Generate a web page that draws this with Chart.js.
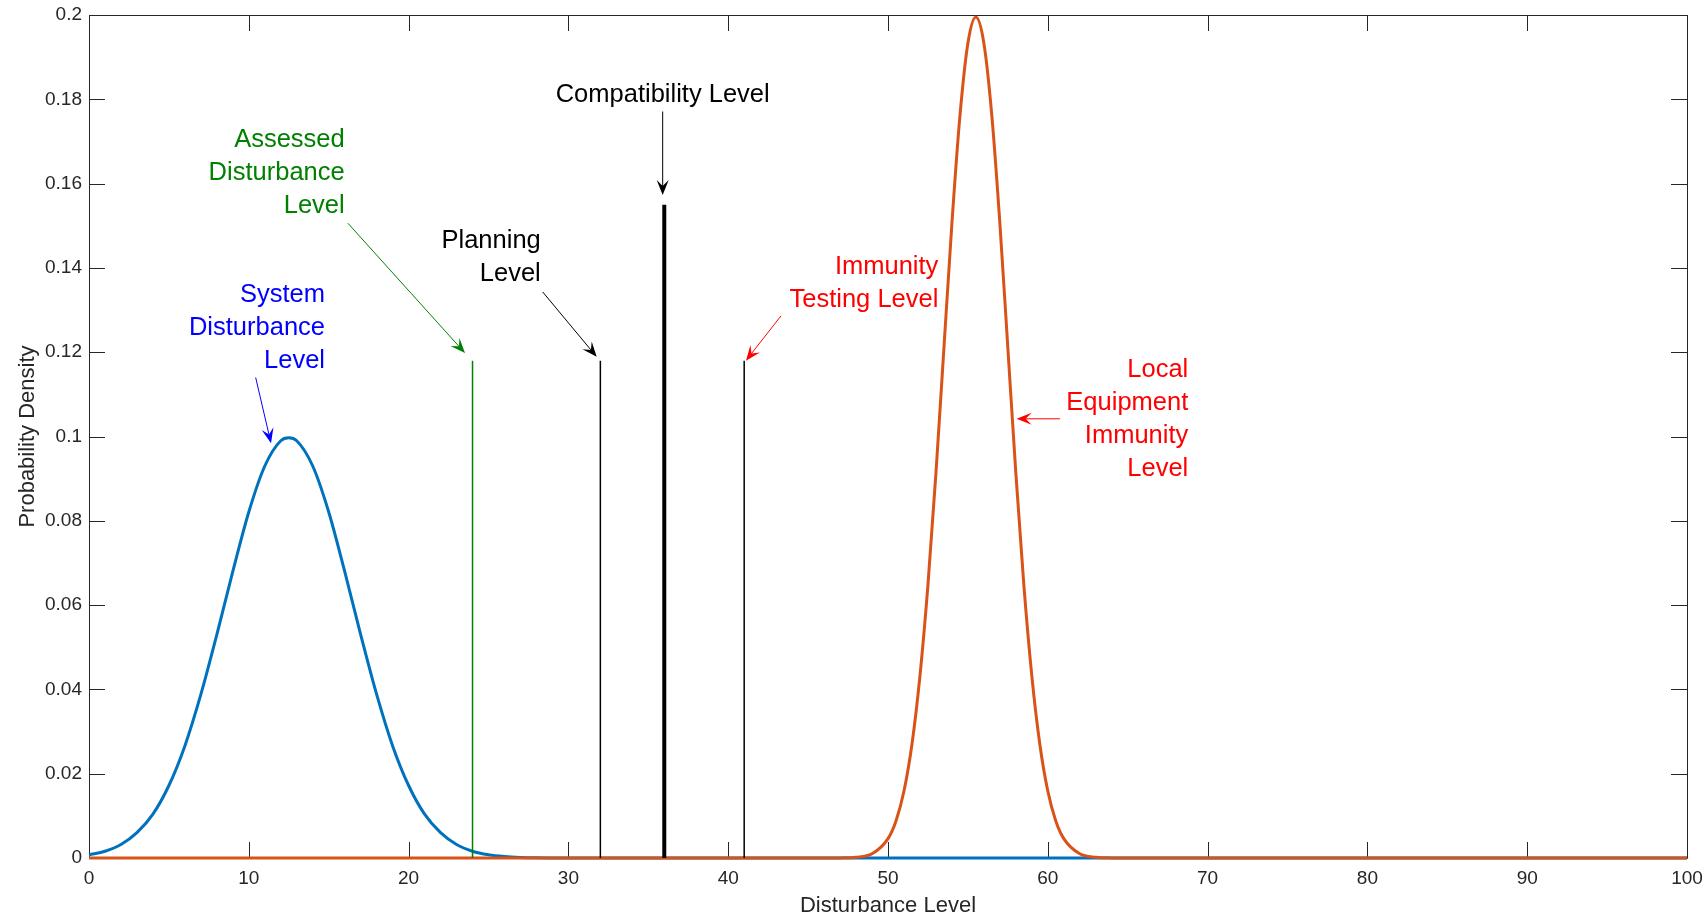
<!DOCTYPE html>
<html>
<head>
<meta charset="utf-8">
<title>Disturbance Level</title>
<script src="https://cdn.jsdelivr.net/npm/chart.js@4.4.1/dist/chart.umd.min.js"></script>
<style>
html, body { margin: 0; padding: 0; background: #fff; }
#wrap { width: 1706px; height: 917px; }
</style>
</head>
<body>
<div id="wrap"><canvas id="pdfChart" width="1706" height="917"></canvas></div>
<script>
// system disturbance level (blue curve)
var sysX = [0, 1, 2, 3, 4, 5, 6, 7, 8, 9, 10, 11, 12, 12.5, 13, 14, 15, 16, 17, 18, 19, 20,
            21, 22, 23, 24, 25, 26, 27, 28, 29, 30, 100];
var sysY = [0.00076, 0.0016, 0.0032, 0.0060, 0.0104, 0.0172, 0.0266, 0.0388, 0.0530, 0.0680,
            0.0821, 0.0930, 0.0990, 0.0997, 0.0990, 0.0930, 0.0821, 0.0680, 0.0530, 0.0388,
            0.0266, 0.0172, 0.0104, 0.0060, 0.0032, 0.0016, 0.00076, 0.00034, 0.00014,
            0.00005, 0.00002, 0, 0];

// local equipment immunity level (orange curve)
var immX = [0, 46, 47, 48, 49, 50, 50.5, 51, 51.5, 52, 52.5, 53, 53.5, 54, 54.5, 55, 55.5,
            56, 56.5, 57, 57.5, 58, 58.5, 59, 59.5, 60, 60.5, 61, 62, 63, 64, 65, 100];
var immY = [0, 0.000003, 0.000024, 0.00018, 0.0010, 0.0046, 0.0088, 0.0159, 0.0270, 0.0432,
            0.0648, 0.0913, 0.1210, 0.1506, 0.1760, 0.1933, 0.1995, 0.1933, 0.1760, 0.1506,
            0.1210, 0.0913, 0.0648, 0.0432, 0.0270, 0.0159, 0.0088, 0.0046, 0.0010, 0.00018,
            0.000024, 0.000003, 0];

// vertical level markers
var levelNames = ['Assessed', 'Planning', 'Compatibility', 'Immunity Testing'];
var levelX = [24, 32, 36, 41];
var levelTop = [0.118, 0.118, 0.155, 0.118];

// axis ticks
var xTicks = [0, 10, 20, 30, 40, 50, 60, 70, 80, 90, 100];
var xTickLabels = ['0', '10', '20', '30', '40', '50', '60', '70', '80', '90', '100'];
var yTicks = [0, 0.02, 0.04, 0.06, 0.08, 0.1, 0.12, 0.14, 0.16, 0.18, 0.2];
var yTickLabels = ['0', '0.02', '0.04', '0.06', '0.08', '0.1', '0.12', '0.14', '0.16', '0.18', '0.2'];

var FONT = '"Liberation Sans", Arial, Helvetica, sans-serif';
var AXIS = '#262626';
var levelColors = ['#008000', '#000000', '#000000', '#000000'];
var levelWidths = [1.5, 1.5, 4, 1.5];

// text arrows (data coordinates)
var notes = [
    { lines: ['Compatibility Level'], color: '#000000', align: 'center', x: 35.9, y: 0.181,
      from: [35.9, 0.1771], to: [35.9, 0.1573] },
    { lines: ['Assessed', 'Disturbance', 'Level'], color: '#008000', align: 'right', x: 16.0, y: 0.1703,
      from: [16.2, 0.1506], to: [23.53, 0.1198] },
    { lines: ['System', 'Disturbance', 'Level'], color: '#0000ff', align: 'right', x: 14.77, y: 0.1336,
      from: [10.43, 0.114], to: [11.39, 0.0984] },
    { lines: ['Planning', 'Level'], color: '#000000', align: 'right', x: 28.27, y: 0.1463,
      from: [28.39, 0.1343], to: [31.77, 0.1189] },
    { lines: ['Immunity', 'Testing Level'], color: '#ff0000', align: 'right', x: 53.15, y: 0.1403,
      from: [43.30, 0.1286], to: [41.11, 0.1180] },
    { lines: ['Local', 'Equipment', 'Immunity', 'Level'], color: '#ff0000', align: 'right', x: 68.79, y: 0.1158,
      from: [60.76, 0.1042], to: [58.05, 0.1042] }
];

function pts(xs, ys) {
    return xs.map(function (x, i) { return { x: x, y: ys[i] }; });
}

function drawArrow(ctx, x1, y1, x2, y2, color) {
    var ang = Math.atan2(y2 - y1, x2 - x1);
    var c = Math.cos(ang), s = Math.sin(ang);
    var L = 15, W = 6, inset = 0.6;
    ctx.strokeStyle = color;
    ctx.fillStyle = color;
    ctx.lineWidth = 1;
    ctx.beginPath();
    ctx.moveTo(x1, y1);
    ctx.lineTo(x2 - c * L * inset, y2 - s * L * inset);
    ctx.stroke();
    var bx = x2 - c * L, by = y2 - s * L;
    ctx.beginPath();
    ctx.moveTo(x2, y2);
    ctx.lineTo(bx - s * W, by + c * W);
    ctx.lineTo(x2 - c * L * inset, y2 - s * L * inset);
    ctx.lineTo(bx + s * W, by - c * W);
    ctx.closePath();
    ctx.fill();
}

// box with inward ticks on all four sides
var boxPlugin = {
    id: 'matlabBox',
    beforeDatasetsDraw: function (chart) {
        var ctx = chart.ctx, a = chart.chartArea;
        var xs = chart.scales.x, ys = chart.scales.y;
        ctx.save();
        ctx.strokeStyle = AXIS;
        ctx.lineWidth = 1;
        ctx.beginPath();
        ctx.rect(Math.round(a.left) + 0.5, Math.round(a.top) + 0.5,
                 Math.round(a.right - a.left), Math.round(a.bottom - a.top));
        xs.ticks.forEach(function (t) {
            var px = Math.round(xs.getPixelForValue(t.value)) + 0.5;
            ctx.moveTo(px, a.bottom); ctx.lineTo(px, a.bottom - 16);
            ctx.moveTo(px, a.top); ctx.lineTo(px, a.top + 16);
        });
        ys.ticks.forEach(function (t) {
            var py = Math.round(ys.getPixelForValue(t.value)) + 0.5;
            ctx.moveTo(a.left, py); ctx.lineTo(a.left + 16, py);
            ctx.moveTo(a.right, py); ctx.lineTo(a.right - 16, py);
        });
        ctx.stroke();
        ctx.restore();
    }
};

var notePlugin = {
    id: 'textArrows',
    afterDatasetsDraw: function (chart) {
        var ctx = chart.ctx;
        var xs = chart.scales.x, ys = chart.scales.y;
        ctx.save();
        notes.forEach(function (n) {
            ctx.font = '25.5px ' + FONT;
            ctx.fillStyle = n.color;
            ctx.textAlign = n.align;
            ctx.textBaseline = 'middle';
            var tx = xs.getPixelForValue(n.x), ty = ys.getPixelForValue(n.y);
            n.lines.forEach(function (line, i) {
                ctx.fillText(line, tx, ty + i * 33);
            });
            drawArrow(ctx, xs.getPixelForValue(n.from[0]), ys.getPixelForValue(n.from[1]),
                      xs.getPixelForValue(n.to[0]), ys.getPixelForValue(n.to[1]), n.color);
        });
        ctx.restore();
    }
};

Chart.defaults.font.family = FONT;

var datasets = [
    {
        label: 'System Disturbance Level',
        data: pts(sysX, sysY),
        borderColor: '#0072BD',
        borderWidth: 3,
        cubicInterpolationMode: 'monotone',
        pointRadius: 0,
        fill: false,
        clip: 5,
        order: 2
    },
    {
        label: 'Local Equipment Immunity Level',
        data: pts(immX, immY),
        borderColor: '#D95319',
        borderWidth: 3,
        cubicInterpolationMode: 'monotone',
        pointRadius: 0,
        fill: false,
        clip: 5,
        order: 1
    }
];
levelX.forEach(function (x, i) {
    datasets.push({
        label: levelNames[i],
        data: [{ x: x, y: 0 }, { x: x, y: levelTop[i] }],
        borderColor: levelColors[i],
        borderWidth: levelWidths[i],
        pointRadius: 0,
        fill: false,
        clip: 5,
        order: 0
    });
});

var ctx = document.getElementById('pdfChart').getContext('2d');
var chart = new Chart(ctx, {
    type: 'line',
    data: { datasets: datasets },
    options: {
        responsive: false,
        animation: false,
        devicePixelRatio: 1,
        layout: { autoPadding: false, padding: { top: 15, right: 19, left: 0, bottom: 0 } },
        plugins: {
            legend: { display: false },
            tooltip: { enabled: false }
        },
        scales: {
            x: {
                type: 'linear',
                min: 0,
                max: 100,
                grid: { display: false, drawTicks: false },
                border: { display: false },
                afterBuildTicks: function (s) {
                    s.ticks = xTicks.map(function (v) { return { value: v }; });
                },
                ticks: {
                    color: AXIS,
                    font: { size: 19 },
                    padding: 9,
                    maxRotation: 0,
                    autoSkip: false,
                    callback: function (v, i) { return xTickLabels[i]; }
                },
                title: {
                    display: true,
                    text: 'Disturbance Level',
                    color: AXIS,
                    font: { size: 22, lineHeight: 1 },
                    padding: 0
                },
                afterFit: function (s) {
                    s.height = 59;
                    s.paddingLeft = 0;
                    s.paddingRight = 0;
                }
            },
            y: {
                type: 'linear',
                min: 0,
                max: 0.2,
                grid: { display: false, drawTicks: false },
                border: { display: false },
                afterBuildTicks: function (s) {
                    s.ticks = yTicks.map(function (v) { return { value: v }; });
                },
                ticks: {
                    color: AXIS,
                    font: { size: 19 },
                    padding: 7,
                    autoSkip: false,
                    callback: function (v, i) { return yTickLabels[i]; }
                },
                title: {
                    display: true,
                    text: 'Probability Density',
                    color: AXIS,
                    font: { size: 22, lineHeight: 1 },
                    padding: { top: 17 }
                },
                afterFit: function (s) {
                    s.width = 89;
                    s.paddingTop = 0;
                    s.paddingBottom = 0;
                }
            }
        }
    },
    plugins: [boxPlugin, notePlugin]
});
</script>
</body>
</html>
